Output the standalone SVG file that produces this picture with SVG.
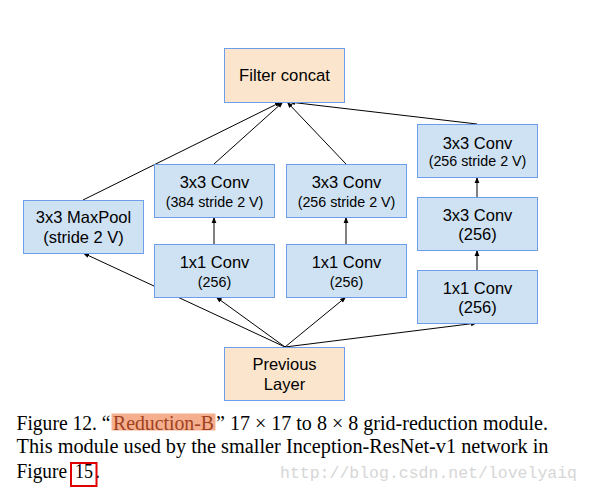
<svg xmlns="http://www.w3.org/2000/svg" width="590" height="493" viewBox="0 0 590 493">
<style>
.b{fill:#cfe2f3;stroke:#6d9eeb;stroke-width:1}
.o{fill:#fce5cd;stroke:#6d9eeb;stroke-width:1}
.t{font-family:"Liberation Sans",Arial,sans-serif;fill:#000;text-anchor:middle}
.l{font-size:16.5px}
.s{font-size:14.3px}
.c{font-family:"Liberation Serif","Times New Roman",serif;font-size:20px;fill:#000}
.e{stroke:#000;stroke-width:1;fill:none;marker-end:url(#a)}
</style>
<defs>
<marker id="a" viewBox="0 0 10 10" refX="10" refY="5" markerWidth="6" markerHeight="6" orient="auto" markerUnits="userSpaceOnUse">
<path d="M0,1 L10,5 L0,9 z" fill="#000"/>
</marker>
</defs>
<rect width="590" height="493" fill="#fff"/>
<g id="connectors">
<line class="e" x1="285" y1="347" x2="83" y2="253"/>
<line class="e" x1="285" y1="347" x2="216" y2="297"/>
<line class="e" x1="285" y1="347" x2="346" y2="297"/>
<line class="e" x1="285" y1="347" x2="477" y2="323"/>
<line class="e" x1="214" y1="244" x2="214" y2="217"/>
<line class="e" x1="346" y1="244" x2="346" y2="217"/>
<line class="e" x1="477" y1="270" x2="477" y2="250"/>
<line class="e" x1="477" y1="197" x2="477" y2="177"/>
<line class="e" x1="83" y1="200" x2="281" y2="102"/>
<line class="e" x1="214" y1="164" x2="283" y2="102"/>
<line class="e" x1="346" y1="164" x2="287" y2="102"/>
<line class="e" x1="477" y1="124" x2="289" y2="102"/>
</g>
<g id="filter-concat">
<rect class="o" x="224.5" y="48.5" width="120" height="54"/>
<text class="t" x="284.5" y="81" font-size="16.7px">Filter concat</text>
</g>
<g id="maxpool">
<rect class="b" x="23.5" y="200.5" width="120" height="53"/>
<text class="t l" x="83.5" y="223">3x3 MaxPool</text>
<text class="t l" x="83.5" y="243">(stride 2 V)</text>
</g>
<g id="conv3-384">
<rect class="b" x="154.5" y="164.5" width="120" height="53"/>
<text class="t l" x="214.5" y="188">3x3 Conv</text>
<text class="t s" x="214.5" y="207">(384 stride 2 V)</text>
</g>
<g id="conv1-a">
<rect class="b" x="154.5" y="244.5" width="120" height="53"/>
<text class="t l" x="214.5" y="268">1x1 Conv</text>
<text class="t s" x="214.5" y="287">(256)</text>
</g>
<g id="conv3-256s">
<rect class="b" x="286.5" y="164.5" width="120" height="53"/>
<text class="t l" x="346.5" y="188">3x3 Conv</text>
<text class="t s" x="346.5" y="207">(256 stride 2 V)</text>
</g>
<g id="conv1-b">
<rect class="b" x="286.5" y="244.5" width="120" height="53"/>
<text class="t l" x="346.5" y="268">1x1 Conv</text>
<text class="t s" x="346.5" y="287">(256)</text>
</g>
<g id="conv3-256s-r">
<rect class="b" x="417.5" y="124.5" width="120" height="53"/>
<text class="t l" x="477.5" y="149">3x3 Conv</text>
<text class="t s" x="477.5" y="166">(256 stride 2 V)</text>
</g>
<g id="conv3-256-r">
<rect class="b" x="417.5" y="197.5" width="120" height="53"/>
<text class="t l" x="477.5" y="221">3x3 Conv</text>
<text class="t l" x="477.5" y="240">(256)</text>
</g>
<g id="conv1-r">
<rect class="b" x="417.5" y="270.5" width="120" height="53"/>
<text class="t l" x="477.5" y="294">1x1 Conv</text>
<text class="t l" x="477.5" y="313">(256)</text>
</g>
<g id="previous-layer">
<rect class="o" x="224.5" y="347.5" width="120" height="53"/>
<text class="t l" x="284.5" y="370">Previous</text>
<text class="t l" x="284.5" y="390">Layer</text>
</g>
<rect x="111.5" y="413.5" width="104" height="17" fill="#f4a582" opacity="0.9"/>
<text class="c" x="16.5" y="429.5" textLength="94" lengthAdjust="spacingAndGlyphs">Figure 12. “</text>
<text class="c" x="113" y="429.5" textLength="101" lengthAdjust="spacingAndGlyphs" style="fill:#a0421e">Reduction-B</text>
<text class="c" x="216" y="429.5" textLength="332" lengthAdjust="spacingAndGlyphs">” 17 × 17 to 8 × 8 grid-reduction module.</text>
<text class="c" x="16.5" y="453" textLength="532" lengthAdjust="spacingAndGlyphs">This module used by the smaller Inception-ResNet-v1 network in</text>
<text class="c" x="16.5" y="477.5" textLength="50.5" lengthAdjust="spacingAndGlyphs">Figure</text>
<text class="c" x="75" y="477.5" textLength="18" lengthAdjust="spacingAndGlyphs">15</text>
<text class="c" x="95" y="477.5">.</text>
<rect x="71" y="463" width="25.5" height="23" fill="none" stroke="#e00000" stroke-width="2"/>
<text x="280" y="478" font-family="'Liberation Mono','Courier New',monospace" font-size="16.5px" textLength="297" lengthAdjust="spacingAndGlyphs" fill="#d6d6d6">http://blog.csdn.net/lovelyaiq</text>
</svg>
